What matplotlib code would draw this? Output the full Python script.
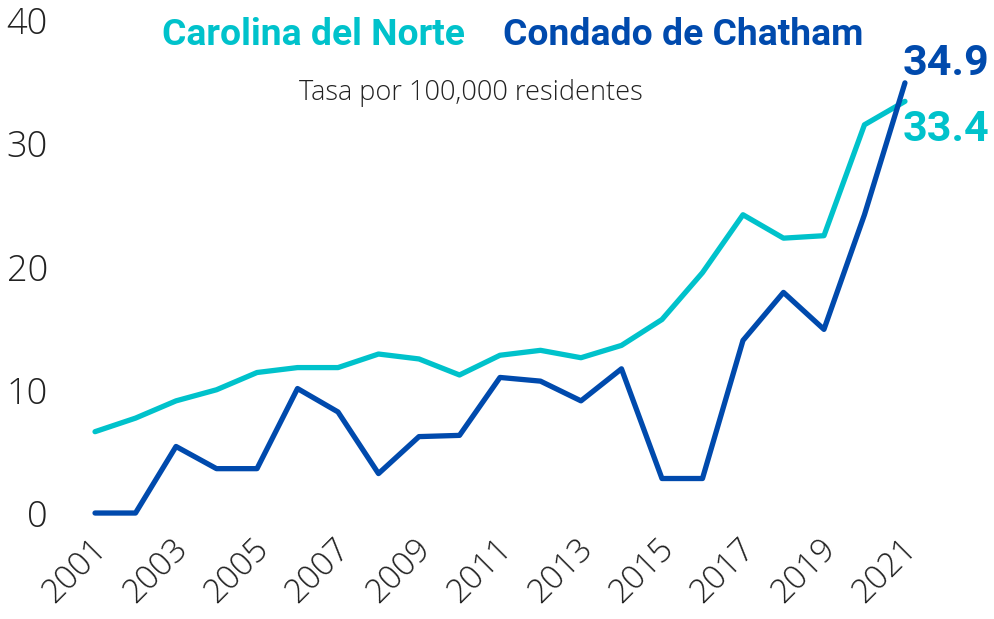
import matplotlib
matplotlib.use("Agg")
import matplotlib.pyplot as plt
import matplotlib.transforms as mtransforms

years = list(range(2001, 2022))
nc_rate = [6.6, 7.7, 9.1, 10.0, 11.4, 11.8, 11.8, 12.9, 12.5, 11.2, 12.8,
           13.2, 12.6, 13.6, 15.7, 19.5, 24.2, 22.3, 22.5, 31.5, 33.4]
chatham_rate = [0.0, 0.0, 5.4, 3.6, 3.6, 10.1, 8.2, 3.2, 6.2, 6.3, 11.0,
                10.7, 9.1, 11.7, 2.8, 2.8, 14.0, 17.9, 14.9, 24.2, 34.9]
xtick_years = list(range(2001, 2022, 2))
yticks = [0, 10, 20, 30, 40]

cyan = "#00C2CB"
navy = "#004AAD"
tick_color = "#222222"

fig = plt.figure(figsize=(9.95, 6.19), dpi=100)
ax = fig.add_axes([0.0955, 0.1712, 0.814, 0.7965])

ax.plot(years, nc_rate, color=cyan, lw=3.8, clip_on=False, solid_capstyle="round")
ax.plot(years, chatham_rate, color=navy, lw=3.8, clip_on=False, solid_capstyle="round")

ax.set_xlim(2001, 2021)
ax.set_ylim(0, 40)
for s in ax.spines.values():
    s.set_visible(False)
ax.tick_params(length=0)

ax.set_yticks(yticks)
ax.set_yticklabels([str(v) for v in yticks], family="Open Sans", weight="light",
                   size=26, color=tick_color)
ax.tick_params(axis="y", pad=34)

ax.set_xticks(xtick_years)
ax.set_xticklabels([str(y) for y in xtick_years], rotation=45, ha="right",
                   family="Open Sans", weight="light", size=24, color=tick_color)
ax.tick_params(axis="x", pad=14)
shift = mtransforms.ScaledTranslation(19 / 100, 0, fig.dpi_scale_trans)
for lab in ax.get_xticklabels():
    lab.set_transform(lab.get_transform() + shift)

fig.text(0.163, 0.927, "Carolina del Norte", family="Roboto", weight="bold",
         size=26.8, color=cyan, va="baseline", ha="left")
fig.text(0.5055, 0.927, "Condado de Chatham", family="Roboto", weight="bold",
         size=26.8, color=navy, va="baseline", ha="left")
fig.text(0.473, 0.838, "Tasa por 100,000 residentes", family="Open Sans",
         weight="light", size=19.5, color=tick_color, va="baseline", ha="center")

ax.annotate(f"{chatham_rate[-1]:.1f}", xy=(years[-1], chatham_rate[-1]),
            xytext=(-2, 14), textcoords="offset points", family="Roboto",
            weight="bold", size=31, color=navy, ha="left", va="center",
            annotation_clip=False)
ax.annotate(f"{nc_rate[-1]:.1f}", xy=(years[-1], nc_rate[-1]),
            xytext=(-2, -20), textcoords="offset points", family="Roboto",
            weight="bold", size=31, color=cyan, ha="left", va="center",
            annotation_clip=False)

fig.savefig("out.png", dpi=100)
